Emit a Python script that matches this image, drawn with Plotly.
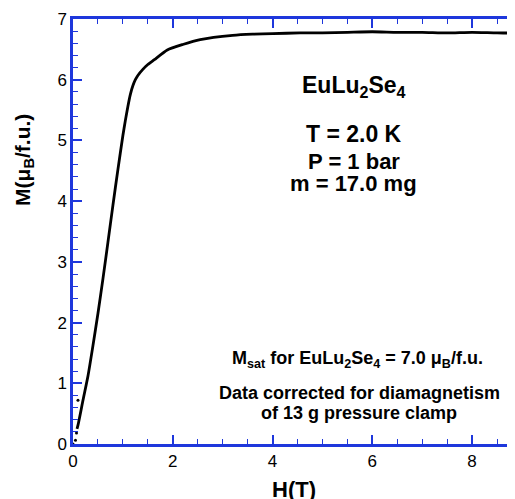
import plotly.graph_objects as go

# Magnetization curve M(H) at T = 2.0 K
field_T = [0.08, 0.10, 0.20, 0.30, 0.40, 0.50, 0.60, 0.70, 0.80, 0.90, 1.00, 1.05,
           1.10, 1.15, 1.20, 1.25, 1.30, 1.40, 1.50, 1.63, 1.89, 2.20, 2.55, 3.20,
           3.60, 4.00, 4.55, 5.00, 5.50, 6.00, 6.50, 7.00, 7.50, 8.00, 8.50, 8.86]
moment_muB = [0.25, 0.31, 0.72, 1.12, 1.62, 2.15, 2.72, 3.32, 3.93, 4.52, 5.08, 5.33,
              5.56, 5.76, 5.90, 6.00, 6.07, 6.17, 6.25, 6.33, 6.49, 6.58, 6.66, 6.73,
              6.75, 6.76, 6.77, 6.77, 6.78, 6.79, 6.78, 6.78, 6.77, 6.78, 6.77, 6.77]

# stray low-field points
stray_field = [0.0, 0.05, 0.07, 0.10]
stray_moment = [0.0, 0.06, 0.18, 0.72]

x_ticks = [0, 2, 4, 6, 8]
y_ticks = [0, 1, 2, 3, 4, 5, 6, 7]

blue = "rgb(30,55,220)"
font_fam = "Liberation Sans, Arial, sans-serif"

fig = go.Figure()
fig.add_trace(go.Scatter(x=field_T, y=moment_muB, mode="lines",
                         line=dict(color="black", width=2.8, shape="spline", smoothing=0.6),
                         showlegend=False))
fig.add_trace(go.Scatter(x=stray_field, y=stray_moment, mode="markers",
                         marker=dict(color="black", size=3), showlegend=False))

axis_common = dict(
    showline=True, linecolor=blue, linewidth=2.5,
    ticks="inside", ticklen=9, tickwidth=1.5, tickcolor=blue,
    showgrid=False, zeroline=False, automargin=False,
    tickfont=dict(family=font_fam, size=17, color="black"),
)

fig.update_xaxes(range=[0, 8.86], tickvals=x_ticks, mirror="ticks",
                 minor=dict(dtick=0.5, ticks="inside", ticklen=5, tickwidth=1.2,
                            tickcolor=blue, showgrid=False),
                 **axis_common)
fig.update_yaxes(range=[0, 7], tickvals=y_ticks, mirror=False,
                 minor=dict(dtick=0.2, ticks="inside", ticklen=5, tickwidth=1.2,
                            tickcolor=blue, showgrid=False),
                 **axis_common)

def ann(text, x, y, size, **kw):
    fig.add_annotation(text=text, x=x, y=y, xref="x", yref="y", showarrow=False,
                       font=dict(family=font_fam, size=size, color="black"),
                       xanchor="center", yanchor="middle", **kw)

ann("<b>EuLu<sub>2</sub>Se<sub>4</sub></b>", 5.63, 5.89, 23)
ann("<b>T = 2.0 K</b>", 5.63, 5.11, 23)
ann("<b>P = 1 bar</b>", 5.63, 4.66, 22)
ann("<b>m = 17.0 mg</b>", 5.63, 4.29, 22)
ann("<b>M<sub>sat</sub> for EuLu<sub>2</sub>Se<sub>4</sub> = 7.0 μ<sub>B</sub>/f.u.</b>", 5.71, 1.40, 18)
ann("<b>Data corrected for diamagnetism</b>", 5.74, 0.84, 18)
ann("<b>of 13 g pressure clamp</b>", 5.74, 0.51, 18)

# axis titles
fig.add_annotation(text="<b>H(T)</b>", x=0.5, y=0, xref="paper", yref="paper",
                   yshift=-60, showarrow=False, xanchor="center", yanchor="bottom",
                   font=dict(family=font_fam, size=22, color="black"))
fig.add_annotation(text="<b>M(μ<sub>B</sub>/f.u.)</b>", x=0, y=(444 - 160) / 60.7,
                   xref="paper", yref="y", xshift=-49, showarrow=False,
                   textangle=-90, xanchor="center", yanchor="middle",
                   font=dict(family=font_fam, size=21, color="black"))

# page body adds an 8 px offset, so the figure is 8 px smaller on each axis
fig.update_layout(width=507, height=491,
                  margin=dict(l=65, r=0, t=11, b=55, autoexpand=False),
                  plot_bgcolor="white", paper_bgcolor="white")

fig.write_html("out.html")
